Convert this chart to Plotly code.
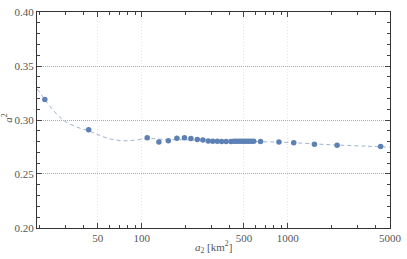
import plotly.graph_objects as go

# Measured points (a2 in km^2, a^2)
a2_pts = [21.7, 43.3, 109, 131, 152, 174, 196, 217, 240, 262, 285, 306, 329, 352, 378,
          408, 428, 444, 462, 481, 500, 520, 540, 561, 584, 650, 869, 1097, 1520, 2173, 4315]
val_pts = [0.319, 0.291, 0.2835, 0.2796, 0.2808, 0.2832, 0.2835, 0.2829, 0.2820, 0.2814,
           0.2805, 0.2802, 0.2802, 0.2801, 0.2801, 0.2801, 0.2802, 0.2802, 0.2802, 0.2802,
           0.2802, 0.2802, 0.2802, 0.2802, 0.2802, 0.2801, 0.2796, 0.2790, 0.2775, 0.2766, 0.2754]

# Fitted curve
curve_x = [19.2, 21.7, 25, 28.9, 35, 43.3, 52, 62, 75, 88, 100, 115, 140, 200, 300,
           500, 1000, 2000, 3500, 5000]
curve_y = [0.3288, 0.3190, 0.3085, 0.3000, 0.2940, 0.2900, 0.2855, 0.2822, 0.2808, 0.2812,
           0.2822, 0.2828, 0.2820, 0.2816, 0.2808, 0.2802, 0.2792, 0.2770, 0.2757, 0.2748]

x_major = [50, 100, 500, 1000, 5000]
x_major_labels = ["50", "100", "500", "1000", "5000"]
x_minor = [20, 30, 40, 60, 70, 80, 90, 200, 300, 400, 600, 700, 800, 900, 2000, 3000, 4000]
y_major = [0.20, 0.25, 0.30, 0.35, 0.40]
y_major_labels = ["0.20", "0.25", "0.30", "0.35", "0.40"]

dot_color = "#5E81B5"
txt = "#555555"
font = "Liberation Serif"

fig = go.Figure()
fig.add_trace(go.Scatter(
    x=curve_x, y=curve_y, mode="lines",
    line=dict(color="rgba(94,129,181,0.6)", width=1, dash="4px,3px", shape="spline", smoothing=1.0),
    hoverinfo="skip", showlegend=False))
fig.add_trace(go.Scatter(
    x=a2_pts, y=val_pts, mode="markers",
    marker=dict(color=dot_color, size=5.5, line=dict(width=0)),
    showlegend=False))

fig.update_layout(
    width=407, height=259,
    margin=dict(l=37, r=12, t=6, b=31),
    paper_bgcolor="white", plot_bgcolor="white",
    font=dict(family=font, size=11, color=txt),
    xaxis=dict(
        type="log", range=[1.283, 3.6991], automargin=True,
        tickvals=x_major, ticktext=x_major_labels,
        ticks="inside", ticklen=5, tickcolor="#444", tickwidth=1,
        showline=True, linecolor="#333", linewidth=1.2, mirror="allticks",
        showgrid=True, gridcolor="#e6e6e6", griddash="1px,2px", gridwidth=1,
        zeroline=False,
        minor=dict(tickvals=x_minor, ticks="inside", ticklen=3, tickcolor="#444", showgrid=False),
        tickfont=dict(family=font, size=11, color=txt),
    ),
    yaxis=dict(
        range=[0.19995, 0.40005], automargin=True,
        tickvals=y_major, ticktext=y_major_labels,
        ticks="inside", ticklen=5, tickcolor="#444", tickwidth=1,
        showline=True, linecolor="#333", linewidth=1.2, mirror="allticks",
        showgrid=True, gridcolor="#aaaaaa", griddash="1px,1px", gridwidth=1,
        zeroline=False,
        minor=dict(dtick=0.01, ticks="inside", ticklen=3, tickcolor="#444", showgrid=False),
        tickfont=dict(family=font, size=11, color=txt),
    ),
    annotations=[
        dict(text="<i>a</i><sub>2</sub> [km<sup>2</sup>]", xref="paper", yref="paper",
             x=0.5, y=-0.09, xanchor="center", yanchor="middle", showarrow=False,
             font=dict(family=font, size=11, color=txt)),
        dict(text="<i>a</i><sup>2</sup>", xref="paper", yref="paper",
             x=-0.085, y=0.51, xanchor="center", yanchor="middle", showarrow=False,
             textangle=-90, font=dict(family=font, size=11, color=txt)),
    ],
)

fig.write_html("out.html", config={"displayModeBar": False},
               post_script="document.body.style.margin='0';document.body.style.padding='0';")
